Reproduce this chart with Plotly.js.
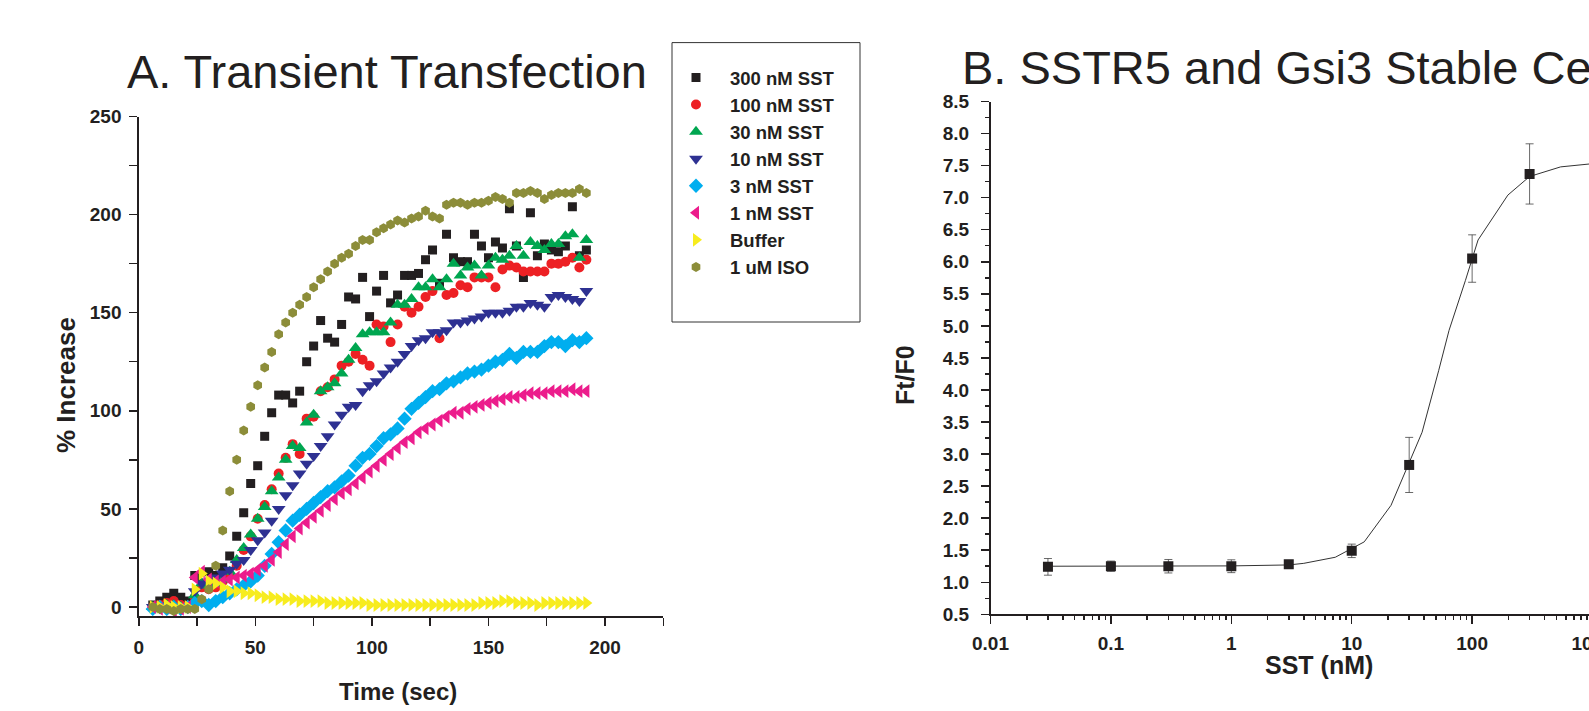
<!DOCTYPE html>
<html><head><meta charset="utf-8">
<script src="https://cdn.plot.ly/plotly-3.0.1.min.js"></script>
<style>html,body{margin:0;padding:0;overflow:hidden;background:#fff}#chart{width:1660px;height:711px}</style>
</head><body><div id="chart"></div>
<script>
// ---- Panel A data (time in sec, % increase) ----
const time = [6,9,12,15,18,21,24,27,30,33,36,39,42,45,48,51,54,57,60,63,66,69,72,75,78,81,84,87,90,93,96,99,102,105,108,111,114,117,120,123,126,129,132,135,138,141,144,147,150,153,156,159,162,165,168,171,174,177,180,183,186,189,192];
const sst300 = [1,3,5,7,5,3,16,12,18,16, 20,26,36,48,63,72,87,99,108,108, 104,110,125,133,146,137,135,144,158,157, 168,148,161,169,155,159,169,169,170,177, 182,165,190,178,176,176,190,184,178,186, 183,203,184,168,201,179,185,182,181,184, 204,179,182];
const sst100 = [0,1,2,3,1,0,5, 10,9,10,13,16,21,29,36,45,52, 60,68,76,83,78,96,97,110,112,116, 123,125,129,126,123,144,143,135,144,153, 150,153,158,161,137,159,160,164,163,168, 168,168,163,172,174,173,171,171,171,171, 175,175,176,178,173,177];
const sst30 = [0,0,1,1,0,0,6, 12,11,12,14,18,24,30,37,45,51, 59,66,75,82,81,94,98,110,112,114, 119,126,132,139,140,140,140,145,154,154, 157,163,163,167,163,167,175,169,173,174, 169,174,178,177,179,184,179,186,184,182, 185,185,189,190,178,187];
const sst10 = [0,0,1,0,0,0,8, 12,13,15,17,19,22,24,29,34,38, 44,50,57,62,68,73,77,82,87,93, 98,102,103,110,113,115,119,122,125,129, 133,136,137,140,140,141,145,145,146,147, 148,150,150,150,151,153,153,155,154,153, 158,159,158,157,156,161];
const sst3 = [-1,0,-1,0,-1,0,2, 3,1,3,5,7,9,11,13,16,21, 27,33,39,44,47,50,53,56,59,61, 64,67,72,76,78,82,86,88,91,96, 101,104,107,110,111,114,115,117,119,120, 121,123,125,126,129,127,130,130,130,133, 135,135,133,136,135,137];
const sst1 = [0,-1,0,-2,-1,0,15, 18,14,13,13,14,15,16,17,19,21, 24,28,32,36,40,43,46,49,52,55, 58,60,63,66,69,72,75,78,81,84, 86,89,91,93,95,97,99,99,101,102, 103,104,105,106,107,107,108,109,109,109, 110,110,110,111,110,110];
const buffer = [0,0,1,0,0,0,9, 17,13,12,10,8,8,7,7,6,5, 5,4,4,4,3,3,3,3,2,2, 2,2,2,2,1,1,1,1,1,1, 1,1,1,1,1,1,1,1,1,1, 2,2,2,3,3,2,2,2,1,2, 2,2,2,2,2,2];
const iso = [0,-1,-1,-2,-1,-1,-1, 4,9,21,39,59,75,90,102,113,122, 130,139,145,150,154,158,163,167,171,175, 178,180,184,187,187,191,193,195,197,196, 198,199,202,199,198,205,206,206,205,206, 206,207,209,208,206,211,211,212,211,208, 210,211,211,211,213,211];
const seriesNames = ['300 nM SST','100 nM SST','30 nM SST','10 nM SST','3 nM SST','1 nM SST','Buffer','1 uM ISO'];

// ---- Panel B data ----
const sstConc = [0.03,0.1,0.3,1,3,10,30,100,300];
const ftf0 = [1.24,1.25,1.25,1.25,1.28,1.49,2.83,6.05,7.37];
const ftf0Err = [0.13,0.08,0.105,0.1,0.06,0.105,0.43,0.37,0.47];
const fitConc = [0.03,0.1,0.3,1,3,4,7.3,12.7,21.2,38.4,52.7,64.3,88,112,198,300,543,1000];
const fitVal = [1.25,1.25,1.25,1.255,1.27,1.295,1.39,1.63,2.2,3.34,4.3,4.93,5.71,6.34,7.04,7.33,7.48,7.53];
const xTickVals = [0.01,0.1,1,10,100,1000];
const xTickText = ['0.01','0.1','1','10','100','1000'];

const W = 1660, H = 711;
const px = v => v / W, py = v => 1 - v / H;
const FONT = 'Liberation Sans, Arial, Helvetica, sans-serif';
const INK = '#231f20';

const seriesVals = [sst300, sst100, sst30, sst10, sst3, sst1, buffer, iso];
const symbols = ['square','circle','triangle-up','triangle-down','diamond','triangle-left','triangle-right','hexagon'];
const colors = ['#231f20','#ed2024','#00a650','#2e3192','#00aeef','#ec1c8c','#f7ec1e','#8c8d39'];
const sizes = [9,10,12,12,11,12,12,10];

const traces = seriesVals.map((vals, i) => ({
  type: 'scatter', mode: 'markers', x: time, y: vals, name: seriesNames[i],
  legendgroup: 'g' + i,
  marker: {symbol: symbols[i], color: colors[i], size: sizes[i], line: {width: 0}},
  xaxis: 'x', yaxis: 'y'
}));

traces.push({
  type: 'scatter', mode: 'lines', x: fitConc, y: fitVal, showlegend: false,
  line: {color: '#333', width: 1}, xaxis: 'x2', yaxis: 'y2', hoverinfo: 'skip'
});
traces.push({
  type: 'scatter', mode: 'markers', x: sstConc, y: ftf0, showlegend: false,
  marker: {symbol: 'square', color: INK, size: 10},
  error_y: {type: 'data', array: ftf0Err, color: '#444', thickness: 0.8, width: 4},
  xaxis: 'x2', yaxis: 'y2'
});

const minorLog = [];
for (let e = -2; e <= 3; e++) for (let d = 2; d <= 9; d++) minorLog.push(d * Math.pow(10, e));

const axBase = {
  showgrid: false, zeroline: false, showline: true, linecolor: INK, linewidth: 1.5,
  ticks: 'outside', ticklen: 8, tickwidth: 1.5, tickcolor: INK
};

const layout = {
  width: W, height: H,
  margin: {l: 0, r: 0, t: 0, b: 0},
  paper_bgcolor: '#fff', plot_bgcolor: 'rgba(0,0,0,0)',
  font: {family: FONT, color: INK},
  showlegend: true,
  legend: {
    x: px(662), y: py(59), xanchor: 'left', yanchor: 'top',
    bgcolor: 'rgba(0,0,0,0)', borderwidth: 0, itemwidth: 58,
    font: {family: FONT, size: 18.5, weight: 'bold', color: INK},
    traceorder: 'normal'
  },
  xaxis: Object.assign({}, axBase, {
    domain: [px(138.8), px(663.3)], range: [0, 225], anchor: 'y',
    tickmode: 'linear', tick0: 0, dtick: 50,
    minor: {dtick: 25, ticks: 'outside', ticklen: 8, tickwidth: 1.5, tickcolor: INK},
    tickfont: {family: FONT, size: 19, weight: 'bold', color: INK}, ticklabelstandoff: 6
  }),
  yaxis: Object.assign({}, axBase, {
    domain: [py(616), py(116.5)], range: [-4.6, 250], anchor: 'x',
    tickmode: 'linear', tick0: 0, dtick: 50,
    minor: {dtick: 25, ticks: 'outside', ticklen: 8, tickwidth: 1.5, tickcolor: INK},
    tickfont: {family: FONT, size: 19, weight: 'bold', color: INK}, ticklabelstandoff: 4
  }),
  xaxis2: Object.assign({}, axBase, {
    type: 'log', domain: [px(990.5), px(1650)], range: [-2, Math.log10(3000)], anchor: 'y2',
    tickmode: 'array', tickvals: xTickVals, ticktext: xTickText,
    minor: {tickmode: 'array', tickvals: minorLog, ticks: 'outside', ticklen: 4, tickwidth: 1.5, tickcolor: INK},
    tickfont: {family: FONT, size: 19, weight: 'bold', color: INK}, ticklabelstandoff: 3
  }),
  yaxis2: Object.assign({}, axBase, {
    domain: [py(614.3), py(101.5)], range: [0.5, 8.5], anchor: 'x2',
    tickmode: 'linear', tick0: 0.5, dtick: 0.5, tickformat: '.1f',
    minor: {dtick: 0.25, ticks: 'outside', ticklen: 4, tickwidth: 1.5, tickcolor: INK},
    tickfont: {family: FONT, size: 19, weight: 'bold', color: INK}, ticklabelstandoff: 8
  }),
  shapes: [{
    type: 'rect', xref: 'paper', yref: 'paper',
    x0: px(672), x1: px(860), y0: py(322), y1: py(42.6),
    line: {color: '#333', width: 1}, fillcolor: 'rgba(0,0,0,0)'
  }],
  annotations: [
    {text: 'A. Transient Transfection', xref: 'paper', yref: 'paper', x: px(125), y: py(72), xanchor: 'left', yanchor: 'middle', showarrow: false, font: {family: FONT, size: 47, color: INK}},
    {text: 'B. SSTR5 and Gsi3 Stable Cells', xref: 'paper', yref: 'paper', x: px(960), y: py(68), xanchor: 'left', yanchor: 'middle', showarrow: false, font: {family: FONT, size: 47, color: INK}},
    {text: 'Time (sec)', xref: 'paper', yref: 'paper', x: px(398), y: py(691), xanchor: 'center', yanchor: 'middle', showarrow: false, font: {family: FONT, size: 24, weight: 'bold', color: INK}},
    {text: '% Increase', xref: 'paper', yref: 'paper', x: px(66), y: py(385), xanchor: 'center', yanchor: 'middle', textangle: -90, showarrow: false, font: {family: FONT, size: 26, weight: 'bold', color: INK}},
    {text: 'Ft/F0', xref: 'paper', yref: 'paper', x: px(905), y: py(375), xanchor: 'center', yanchor: 'middle', textangle: -90, showarrow: false, font: {family: FONT, size: 25, weight: 'bold', color: INK}},
    {text: 'SST (nM)', xref: 'paper', yref: 'paper', x: px(1319), y: py(665), xanchor: 'center', yanchor: 'middle', showarrow: false, font: {family: FONT, size: 25, weight: 'bold', color: INK}}
  ]
};

Plotly.newPlot('chart', traces, layout, {displayModeBar: false, staticPlot: true});
</script>
</body></html>
